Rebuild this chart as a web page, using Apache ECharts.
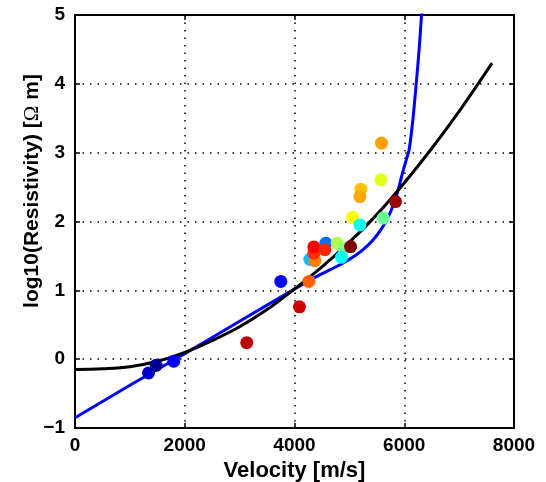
<!DOCTYPE html>
<html>
<head>
<meta charset="utf-8">
<script src="https://cdn.jsdelivr.net/npm/echarts@6/dist/echarts.min.js"></script>
<style>
html,body{margin:0;padding:0;background:#fff;}
#chart{width:546px;height:482px;}
</style>
</head>
<body>
<div id="chart"></div>
<script>
// Measured points: velocity [m/s], log10 resistivity, colour value (jet scale 0..1)
const velocity = [1340, 1480, 1800, 3130, 3750, 4090, 4262, 4280, 4372, 4353, 4353, 4572, 4554, 4778, 4900, 5021, 4857, 5057, 5191, 5209, 5191, 5616, 5574, 5586, 5841];
const logRes   = [-0.20, -0.09, -0.03, 0.24, 1.13, 0.76, 1.13, 1.45, 1.43, 1.54, 1.63, 1.685, 1.59, 1.685, 1.60, 1.635, 1.48, 2.06, 1.95, 2.47, 2.36, 2.05, 2.605, 3.14, 2.29];
const colorVal = [0.064, 0.0, 0.125, 0.937, 0.13, 0.92, 0.78, 0.31, 0.75, 0.83, 0.875, 0.234, 0.84, 0.547, 0.5, 1.0, 0.375, 0.625, 0.39, 0.687, 0.71, 0.48, 0.6, 0.72, 0.97];

// Black fitted curve
const blackX = [0, 500, 1000, 1500, 2000, 2500, 3000, 3500, 4000, 4500, 5000, 5500, 6000, 6500, 7000, 7600];
const blackY = [-0.15, -0.14, -0.11, -0.03, 0.10, 0.27, 0.47, 0.72, 1.02, 1.34, 1.70, 2.10, 2.56, 3.06, 3.60, 4.30];

// Blue fitted curve
const blueX = [0, 1000, 2000, 3000, 4000, 4400, 4650, 4900, 5080, 5250, 5430, 5590, 5710, 5800, 5890, 5950, 6020, 6090, 6160, 6220, 6270, 6315, 6340];
const blueY = [-0.85, -0.38, 0.08, 0.55, 1.02, 1.20, 1.30, 1.40, 1.49, 1.59, 1.73, 1.90, 2.07, 2.24, 2.46, 2.65, 2.85, 3.05, 3.50, 4.02, 4.49, 5.0, 5.3];

const xTicks = [0, 8000, 2000];
const yTicks = [-1, 5, 1];

const jet = ['#00008f', '#0000ff', '#0080ff', '#00ffff', '#80ff80', '#ffff00', '#ff8000', '#ff0000', '#800000'];
const FONT = '"Liberation Sans", Arial, Helvetica, sans-serif';

const scatterData = velocity.map((v, i) => [v, logRes[i], colorVal[i]]);
const blackData = blackX.map((v, i) => [v, blackY[i]]);
const blueData = blueX.map((v, i) => [v, blueY[i]]);

const chart = echarts.init(document.getElementById('chart'), null, {renderer: 'canvas'});

const axisLine = {show: true, onZero: false, lineStyle: {color: '#000', width: 2}};
const tick = {show: true, inside: true, length: 5, lineStyle: {color: '#000', width: 1.5}};
const grid = {show: true, lineStyle: {color: '#000', width: 1.5, type: [1.5, 6]}};
const lbl = {color: '#000', fontSize: 19, fontWeight: 'bold', fontFamily: FONT};

chart.setOption({
  animation: false,
  backgroundColor: '#fff',
  grid: {left: 75, right: 32, top: 15, bottom: 54, containLabel: false, outerBoundsMode: 'none'},
  visualMap: {show: false, type: 'continuous', seriesIndex: 2, dimension: 2, min: 0, max: 1, inRange: {color: jet}},
  xAxis: [
    {type: 'value', min: xTicks[0], max: xTicks[1], interval: xTicks[2], position: 'bottom',
     axisLine, axisTick: tick, splitLine: grid,
     axisLabel: Object.assign({margin: 8, formatter: v => String(v)}, lbl),
     name: 'Velocity [m/s]', nameLocation: 'middle', nameGap: 27,
     nameTextStyle: {color: '#000', fontSize: 22, fontWeight: 'bold', fontFamily: FONT}},
    {type: 'value', min: xTicks[0], max: xTicks[1], interval: xTicks[2], position: 'top',
     axisLine, axisTick: tick, splitLine: {show: false}, axisLabel: {show: false}}
  ],
  yAxis: [
    {type: 'value', min: yTicks[0], max: yTicks[1], interval: yTicks[2], position: 'left',
     axisLine, axisTick: tick, splitLine: grid,
     axisLabel: Object.assign({margin: 10, formatter: v => String(v).replace('-', '\u2212')}, lbl)},
    {type: 'value', min: yTicks[0], max: yTicks[1], interval: yTicks[2], position: 'right',
     axisLine, axisTick: tick, splitLine: {show: false}, axisLabel: {show: false}}
  ],
  graphic: [{
    type: 'text', x: 32, y: 191, rotation: Math.PI / 2,
    style: {
      text: 'log10(Resistivity) [{o|Ω} m]',
      fill: '#000', fontSize: 21, fontWeight: 'bold', fontFamily: FONT,
      align: 'center', verticalAlign: 'middle',
      rich: {o: {fontFamily: '"Liberation Serif", "DejaVu Serif", serif', fontWeight: 'normal', fontSize: 21, fill: '#000'}}
    }
  }],
  series: [
    {type: 'line', data: blueData, showSymbol: false, symbol: 'none', smooth: 0.25,
     clip: true, lineStyle: {color: '#0000ff', width: 3}, z: 2},
    {type: 'line', data: blackData, showSymbol: false, symbol: 'none', smooth: 0.4,
     clip: true, lineStyle: {color: '#000', width: 3}, z: 3},
    {type: 'scatter', data: scatterData, symbol: 'circle', symbolSize: 13, z: 4,
     itemStyle: {opacity: 1}}
  ]
});
</script>
</body>
</html>
